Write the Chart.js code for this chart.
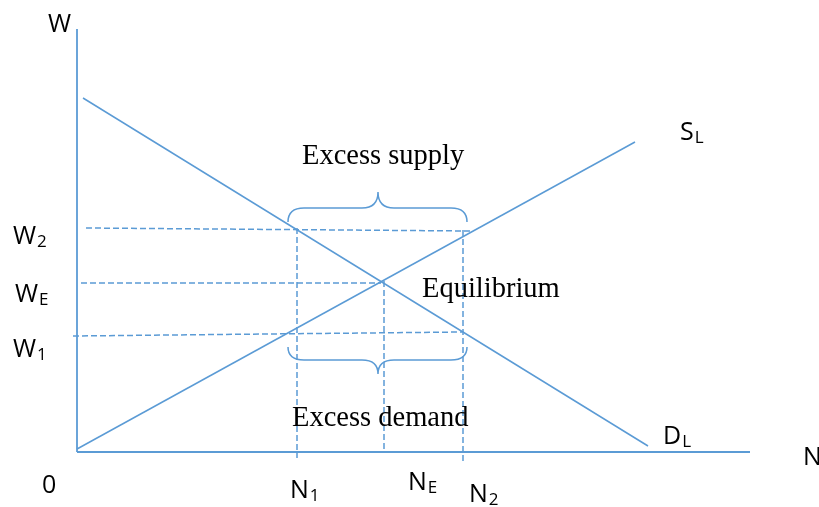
<!DOCTYPE html>
<html>
<head>
<meta charset="utf-8">
<script src="https://cdn.jsdelivr.net/npm/chart.js@4/dist/chart.umd.min.js"></script>
<style>
html,body{margin:0;padding:0;background:#fff;}
#wrap{width:819px;height:507px;}
</style>
</head>
<body>
<div id="wrap"><canvas id="c" width="819" height="507"></canvas></div>
<script>
// ---- data (arbitrary units: N along x, W along y) ----
const axisY = [{x:0, y:0}, {x:0, y:42.3}];
const axisX = [{x:0, y:0}, {x:67.3, y:0}];
const demand = [{x:0.6, y:35.4}, {x:57.1, y:0.6}];
const supply = [{x:0.0, y:0.3}, {x:55.8, y:31.0}];
const wageW2 = [{x:0.9, y:22.4}, {x:39.4, y:22.1}];
const wageWE = [{x:0.4, y:16.9}, {x:30.4, y:16.9}];
const wageW1 = [{x:-0.4, y:11.6}, {x:38.5, y:12.0}];
const qtyN1 = [{x:22.0, y:22.4}, {x:22.0, y:-0.6}];
const qtyNE = [{x:30.7, y:17.1}, {x:30.7, y:0}];
const qtyN2 = [{x:38.6, y:22.2}, {x:38.6, y:-1.2}];
// braces: x0, x1, tip x, end y, bar y, tip y
const braceSupply = {x0:21.1, x1:39.0, xm:30.1, yEnd:23.0, yBar:24.4, yTip:26.0};
const braceDemand = {x0:21.1, x1:39.0, xm:30.1, yEnd:10.5, yBar:9.2, yTip:7.8};
// tick-like labels: [main, subscript, x, y]
const axisLabels = [
  ["W", "", -2.9, 42.0],
  ["W", "2", -6.4, 20.8],
  ["W", "E", -6.2, 15.0],
  ["W", "1", -6.4, 9.5],
  ["0", "", -3.5, -4.1],
  ["N", "1", 21.3, -4.6],
  ["N", "E", 33.1, -3.8],
  ["N", "2", 39.2, -5.0],
  ["N", "", 72.6, -1.3],
  ["S", "L", 60.3, 31.2],
  ["D", "L", 58.6, 0.8]
];
const notes = [
  ["Excess supply", 22.5, 28.8],
  ["Equilibrium", 34.5, 15.5],
  ["Excess demand", 21.5, 2.6]
];

const BLUE = '#5B9BD5';
function seg(data, dashed, w){
  return {data, showLine:true, borderColor:BLUE, backgroundColor:BLUE,
    borderWidth: w || 1.5, pointRadius:0, borderDash: dashed ? [6,3] : [], tension:0};
}

const overlay = {
  id:'overlay',
  afterDraw(chart){
    const ctx = chart.ctx, sx = chart.scales.x, sy = chart.scales.y;
    const X = v => sx.getPixelForValue(v), Y = v => sy.getPixelForValue(v);
    ctx.save();
    // braces
    ctx.strokeStyle = BLUE; ctx.lineWidth = 1.5; ctx.setLineDash([]);
    [braceSupply, braceDemand].forEach(b => {
      const x0=X(b.x0), x1=X(b.x1), xm=X(b.xm), ye=Y(b.yEnd), yb=Y(b.yBar), yt=Y(b.yTip);
      const r = 16;
      ctx.beginPath();
      ctx.moveTo(x0, ye);
      ctx.quadraticCurveTo(x0, yb, x0 + r, yb);
      ctx.lineTo(xm - r, yb);
      ctx.quadraticCurveTo(xm, yb, xm, yt);
      ctx.quadraticCurveTo(xm, yb, xm + r, yb);
      ctx.lineTo(x1 - r, yb);
      ctx.quadraticCurveTo(x1, yb, x1, ye);
      ctx.stroke();
    });
    // labels
    ctx.fillStyle = '#000';
    ctx.textBaseline = 'alphabetic';
    ctx.textAlign = 'left';
    axisLabels.forEach(([m, s, x, y]) => {
      const px = X(x), py = Y(y);
      ctx.font = '25px "Open Sans", sans-serif';
      ctx.fillText(m, px, py);
      const w = ctx.measureText(m).width;
      if (s) {
        ctx.font = '17px "Open Sans", sans-serif';
        ctx.fillText(s, px + w + 1, py + 3);
      }
    });
    ctx.font = '28.5px "Liberation Serif", "Times New Roman", serif';
    notes.forEach(([t, x, y]) => ctx.fillText(t, X(x), Y(y)));
    ctx.restore();
  }
};

new Chart(document.getElementById('c'), {
  type:'scatter',
  data:{datasets:[
    seg(axisY, false, 1.8), seg(axisX, false, 1.8),
    seg(demand), seg(supply),
    seg(wageW2, true), seg(wageWE, true), seg(wageW1, true),
    seg(qtyN1, true), seg(qtyNE, true), seg(qtyN2, true)
  ]},
  options:{
    responsive:false, animation:false,
    layout:{padding:0},
    plugins:{legend:{display:false}, tooltip:{enabled:false}},
    scales:{
      x:{type:'linear', min:-7.7, max:74.2, display:false},
      y:{type:'linear', min:-5.5, max:45.2, display:false}
    }
  },
  plugins:[overlay]
});
</script>
</body>
</html>
